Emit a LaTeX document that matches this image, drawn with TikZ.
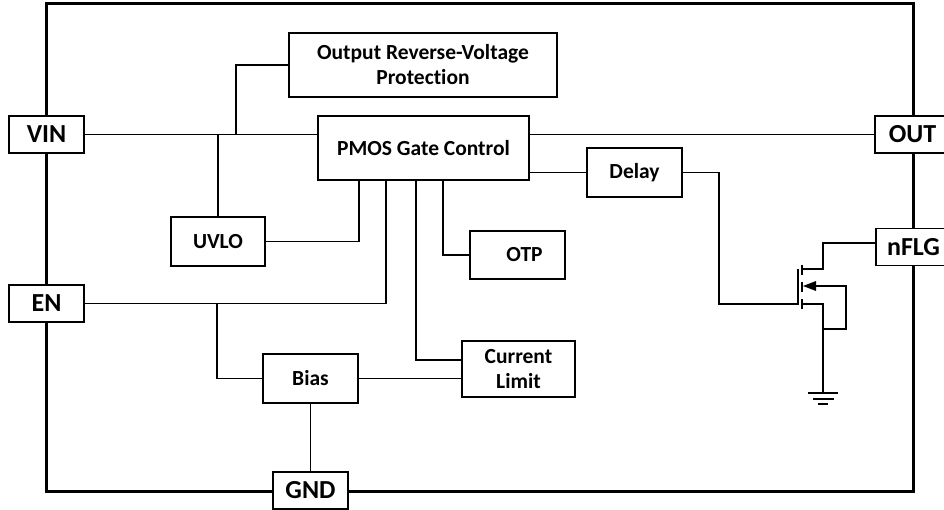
\documentclass[tikz,border=0pt]{standalone}
\usepackage{fontspec}
\setmainfont{Carlito}[Ligatures=NoCommon]
\tikzset{
  blk/.style={draw,line width=1.5pt,fill=white,inner sep=0pt,align=center,
    font=\fontsize{21.5}{25}\selectfont\bfseries},
  pin/.style={blk,minimum width=75pt,minimum height=37pt,
    font=\fontsize{26}{30}\selectfont\bfseries},
  wire/.style={line width=1.4pt}
}
\begin{document}
\begin{tikzpicture}[x=1pt,y=-1pt]
    \useasboundingbox (0,0) rectangle (944,510);
    % chip outline
    \draw[line width=3pt] (46,4) rectangle (913,491);

    \node[pin] (VIN) at (46.5,134.5) {VIN};
    \node[pin] (EN) at (46.5,303.5) {EN};
    \node[pin] (OUT) at (912.5,134.5) {OUT};
    \node[pin] (NFLG) at (913.5,247) {nFLG};
    \node[pin] (GND) at (310.5,490.5) {GND};

    \node[blk,minimum width=268pt,minimum height=64pt] (ORVP) at (423,65) {Output Reverse-Voltage\\Protection};
    \node[blk,minimum width=211pt,minimum height=64pt] (PMOS) at (423.5,148) {PMOS Gate Control};
    \node[blk,minimum width=95pt,minimum height=49pt] (DLY) at (634.5,172.5) {Delay};
    \node[blk,minimum width=94pt,minimum height=49pt] (UVLO) at (218,241.5) {UVLO};
    \node[blk,minimum width=95pt,minimum height=48pt] (OTP) at (517.5,255) {\hspace{14pt}OTP};
    \node[blk,minimum width=95pt,minimum height=49pt] (BIAS) at (310.5,378.5) {Bias};
    \node[blk,minimum width=113pt,minimum height=56pt] (CL) at (518.5,369) {Current\\Limit};

    % taps on the gate control
    \coordinate (tapU) at (359,180);
    \coordinate (tapE) at (386,180);
    \coordinate (tapC) at (416,180);
    \coordinate (tapO) at (443,180);
    \coordinate (tapR) at (236,135);
    \coordinate (tapB) at (217,304);

    \draw[wire] (VIN.east) -- (PMOS.west |- VIN.east);
    \draw[wire] (PMOS.east |- OUT.west) -- (OUT.west);
    \draw[wire] (ORVP.west) -| (tapR);
    \draw[wire] (UVLO.north) -- (UVLO.north |- VIN.east);
    \draw[wire] (UVLO.east) -| (tapU);
    \draw[wire] (EN.east) -| (tapE);
    \draw[wire] (tapC) |- ([yshift=9pt]CL.west);
    \draw[wire] (tapO) |- (OTP.west);
    \draw[wire] (tapB) |- (BIAS.west);
    \draw[wire] (BIAS.east) -- (BIAS.east -| CL.west);
    \draw[wire] (BIAS.south) -- (GND.north);
    \draw[wire] (PMOS.east |- DLY.west) -- (DLY.west);

    % flag transistor
    \draw[wire] (DLY.east) -| (719,304) -- (798,304) -- (798,269);
    \draw[wire] (802,265) -- (802,275) (802,282) -- (802,292) (802,299) -- (802,309);
    \draw[wire] (802,269) -- (823,269) |- ([yshift=4pt]NFLG.west);
    \draw[wire] (815,286) -- (846,286) -- (846,329) -- (823,329);
    \fill (803,286) -- (816,281) -- (816,291) -- cycle;
    \draw[wire] (802,304) -- (823,304) -- (823,393);
    \draw[wire] (808,393) -- (838,393) (813,399) -- (834,399) (818,404) -- (828,404);
\end{tikzpicture}
\end{document}
